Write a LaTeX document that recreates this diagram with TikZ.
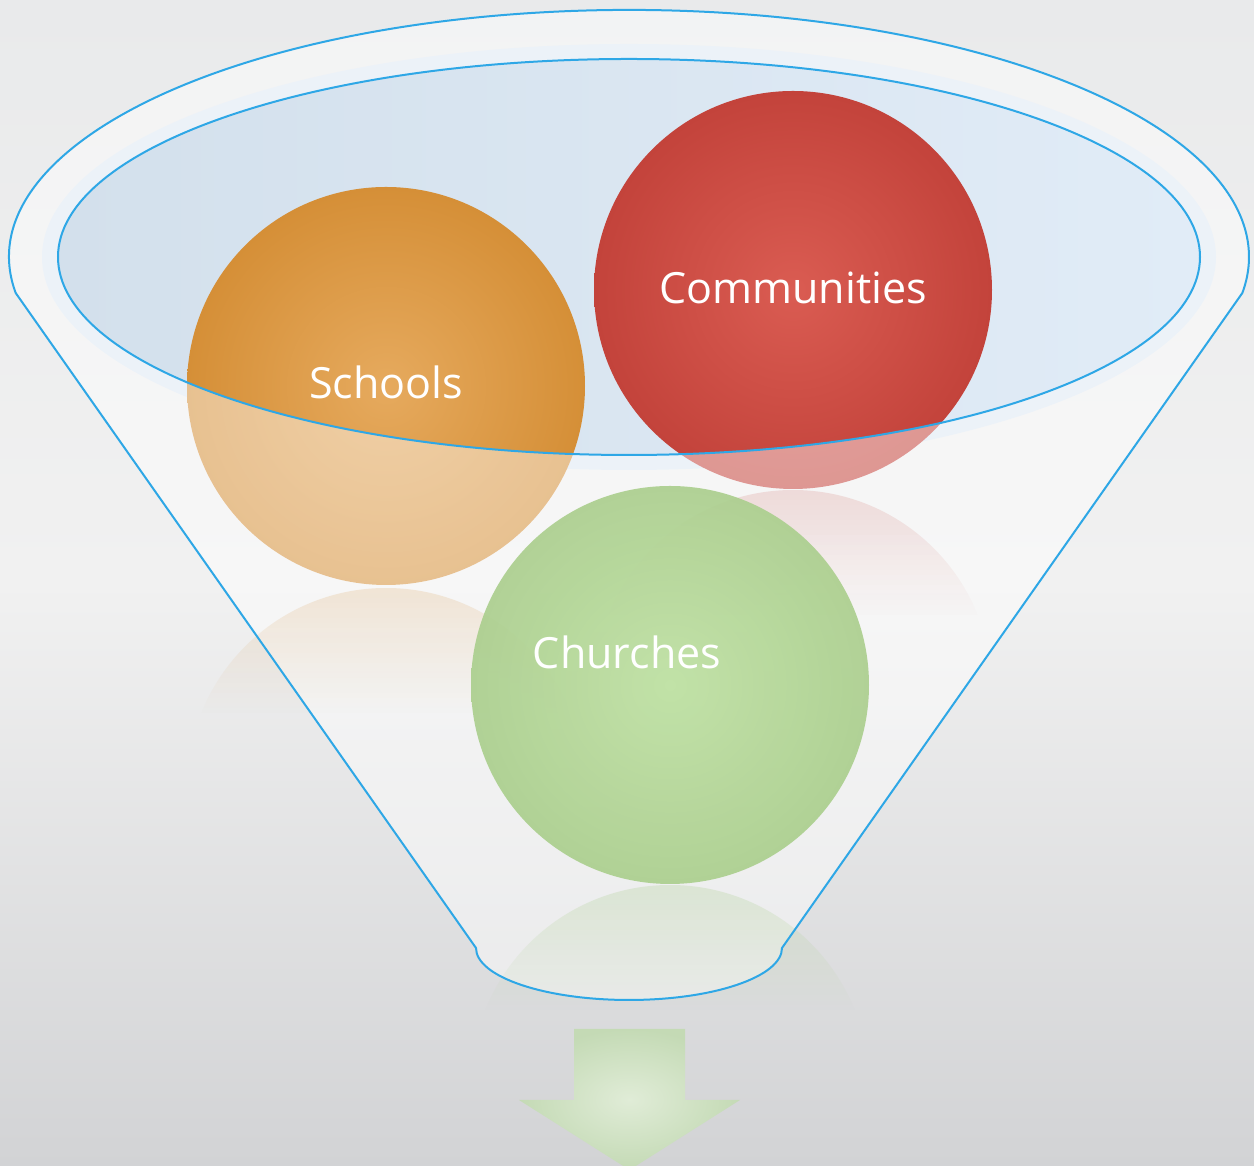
\documentclass[tikz,border=0pt]{standalone}
\usepackage{fontspec}
\setmainfont{Open Sans}
\definecolor{bgtop}{HTML}{E9EAEB}
\definecolor{bgmid}{HTML}{F1F1F1}
\definecolor{bgbot}{HTML}{D2D3D5}
\definecolor{funline}{HTML}{2EA7E6}
\definecolor{innerL}{HTML}{D3E0EC}
\definecolor{innerR}{HTML}{E1ECF7}
\definecolor{halo}{HTML}{DCE8F5}
\definecolor{schoolIn}{HTML}{E6AA5E}
\definecolor{schoolOut}{HTML}{D58F37}
\definecolor{commIn}{HTML}{DA5C52}
\definecolor{commOut}{HTML}{C3433B}
\definecolor{churchIn}{HTML}{BEE1A2}
\definecolor{churchOut}{HTML}{ACCF8F}
\definecolor{arrIn}{HTML}{E0ECD7}
\definecolor{arrOut}{HTML}{C4DAB5}
\tikzset{
  ball/.style={circle, minimum size=238.8pt, inner sep=0pt, draw=none},
  lbl/.style={text=white, font=\fontsize{25.8}{30}\selectfont, inner sep=0pt, anchor=base},
  funstroke/.style={draw=funline, line width=1.2pt}
}
\def\funnelpath{(15.7,873) arc[start angle=188.4, end angle=-8.4, x radius=620, y radius=247] -- (782,218) arc[start angle=0, end angle=-180, x radius=153, y radius=52] -- cycle}
\def\innerell{(629,909) ellipse[x radius=571, y radius=198]}
% #1 centre x, #2 top y of reflected disc, #3 colour, #4 opacity at top
\newcommand\reflcap[4]{%
  \begin{scope}
    \clip (#1,#2-199) circle[radius=199];
    \foreach \i in {0,...,24}{%
      \pgfmathsetmacro\myop{#4*(1-\i/25)}
      \fill[#3, fill opacity=\myop] (#1-200,#2-5*\i) rectangle (#1+200,#2-5*\i-5);
    }
  \end{scope}}
\begin{document}
\begin{tikzpicture}[x=0.6pt,y=0.6pt]
\useasboundingbox (0,0) rectangle (1254,1166);
% background
\fill[top color=bgtop, bottom color=bgbot, middle color=bgmid] (0,0) rectangle (1254,1166);
% halo and inner ellipse fill
\fill[halo, fill opacity=0.9, even odd rule] (629,909) ellipse[x radius=587, y radius=213] \innerell;
\fill[left color=innerL, right color=innerR] \innerell;
% upper circles
\node[ball, inner color=schoolIn, outer color=schoolOut] (schools) at (386,780) {};
\node[ball, inner color=commIn, outer color=commOut] (communities) at (793,876) {};
% funnel front overlay
\fill[white, fill opacity=0.45, even odd rule] \funnelpath \innerell;
\draw[funstroke] \innerell;
% reflections
\reflcap{386}{578}{schoolOut}{0.17}
\reflcap{793}{676}{commOut}{0.15}
\reflcap{670}{281}{churchOut}{0.28}
% lower circle
\node[ball, inner color=churchIn, outer color=churchOut, opacity=0.93] (churches) at (670,481) {};
% funnel outline
\draw[funstroke] \funnelpath;
% arrow
\shade[inner color=arrIn, outer color=arrOut] (574,137) -- (685,137) -- (685,66) -- (740,66) -- (629.5,-4) -- (519,66) -- (574,66) -- cycle;
% labels
\node[lbl] (schoolsText) at (386,767) {Schools};
\node[lbl] (communitiesText) at (793,862) {Communities};
\node[lbl] (churchesText) at (627,497) {Churches};
\end{tikzpicture}
\end{document}
